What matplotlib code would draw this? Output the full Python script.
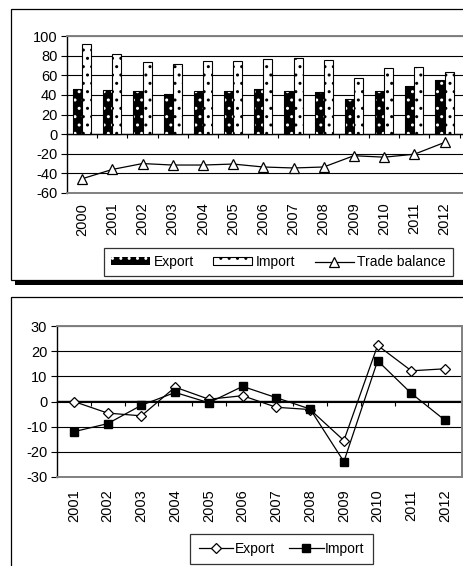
import matplotlib
matplotlib.use("Agg")
import matplotlib.pyplot as plt
from matplotlib.patches import Rectangle
import numpy as np

plt.rcParams['font.family'] = ['Liberation Sans', 'DejaVu Sans']
plt.rcParams['hatch.linewidth'] = 1.0
plt.rcParams['axes.unicode_minus'] = False

W, H = 463, 566

### --------- DATA --------- ###

years_top = ['2000', '2001', '2002', '2003', '2004', '2005', '2006',
             '2007', '2008', '2009', '2010', '2011', '2012']
export_top = [45.5, 45, 44, 41, 44, 44, 45.5, 44, 43, 36, 44, 49.5, 55]
import_top = [91.5, 81.5, 73, 71.5, 74.5, 74.5, 77, 78, 76, 57.5, 67, 68.5, 63.5]
balance_top = [-45.5, -36, -30, -31.5, -31.5, -30.5, -33.5, -34.5, -33.5,
               -22, -23.5, -20.5, -8.5]

years_bot = ['2001', '2002', '2003', '2004', '2005', '2006',
             '2007', '2008', '2009', '2010', '2011', '2012']
export_growth = [0, -4.6, -5.7, 5.7, 0.9, 2.3, -2.3, -3.2, -15.5, 22.3, 12.2, 13]
import_growth = [-12, -8.8, -1.5, 3.6, -0.5, 6, 1.5, -3, -23.9, 16.2, 3.2, -7.5]

top_yticks = [-60, -40, -20, 0, 20, 40, 60, 80, 100]
bot_yticks = [-30, -20, -10, 0, 10, 20, 30]


def px_rect(left, top, right, bottom):
    return [left / W, 1 - bottom / H, (right - left) / W, (bottom - top) / H]


def style_axes(ax, ymin, ymax, yticks, n_ticks, xright):
    ax.set_ylim(ymin, ymax)
    ax.set_yticks(yticks)
    ax.set_xlim(-0.5, xright)
    ax.set_axisbelow(True)
    ax.yaxis.grid(True, color='black', lw=0.8)
    for s in ['top', 'bottom', 'right']:
        ax.spines[s].set_color('#808080')
        ax.spines[s].set_linewidth(1.4)
    ax.spines['left'].set_color('black')
    ax.spines['left'].set_linewidth(1.0)
    ax.tick_params(axis='y', direction='out', length=4, width=0.8,
                   pad=3, labelsize=10.5)
    ax.tick_params(axis='x', length=0, pad=7, labelsize=10.5)
    # category axis at y = 0 with tick marks between categories
    zero = (0 - ymin) / (ymax - ymin)
    sec = ax.secondary_xaxis(zero)
    for s in ['top', 'bottom']:
        sec.spines[s].set_color('black')
        sec.spines[s].set_linewidth(1.0)
    sec.set_xticks(np.arange(0.5, n_ticks, 1.0))
    sec.xaxis.set_ticks_position('bottom')
    sec.tick_params(axis='x', direction='out', length=3, width=0.8,
                    labelbottom=False, labeltop=False)


fig = plt.figure(figsize=(W / 100, H / 100), dpi=100)

# chart frames (behind the axes)
fig.add_artist(Rectangle((15 / W, 1 - 285 / H), 470 / W, 4 / H,
                         transform=fig.transFigure, facecolor='black',
                         edgecolor='none', zorder=-2))
fig.add_artist(Rectangle((11 / W, 1 - 280 / H), 470 / W, 271 / H,
                         transform=fig.transFigure, facecolor='white',
                         edgecolor='black', lw=0.9, zorder=-1))
fig.add_artist(Rectangle((11 / W, 1 - 580 / H), 470 / W, 283 / H,
                         transform=fig.transFigure, facecolor='white',
                         edgecolor='black', lw=0.9, zorder=-1))

### --------- TOP CHART --------- ###

ax1 = fig.add_axes(px_rect(67, 36, 475, 193))
ax1.patch.set_alpha(0)
x1 = np.arange(len(years_top))
bw = 0.3
b_exp = ax1.bar(x1 - bw / 2, export_top, bw, facecolor='black',
                edgecolor='white', hatch='..', lw=0, label='Export', zorder=2)
ax1.bar(x1 - bw / 2, export_top, bw, fill=False, edgecolor='black',
        lw=0.8, zorder=2)
b_imp = ax1.bar(x1 + bw / 2, import_top, bw, facecolor='white',
                edgecolor='black', hatch='..', lw=0.8, label='Import', zorder=2)
l_bal, = ax1.plot(x1, balance_top, color='black', lw=0.9, marker='^',
                  ms=7, mfc='white', mec='black', mew=0.9,
                  label='Trade balance', zorder=3)
style_axes(ax1, -60, 100, top_yticks, len(years_top),
           -0.5 + (475 - 67) / 30.2)
ax1.set_xticks(x1)
ax1.set_xticklabels(years_top, rotation=90)

leg1 = fig.legend(handles=[b_exp, b_imp, l_bal], loc='center',
                  bbox_to_anchor=(278.5 / W, 1 - 262 / H), ncol=3,
                  fontsize=10, frameon=True, fancybox=False,
                  handlelength=2.8, handleheight=0.5, handletextpad=0.25,
                  columnspacing=1.4, borderpad=0.5)
leg1.get_frame().set_edgecolor('black')
leg1.get_frame().set_linewidth(0.9)

### --------- BOTTOM CHART --------- ###

ax2 = fig.add_axes(px_rect(57, 326, 462, 477))
ax2.patch.set_alpha(0)
x2 = np.arange(len(years_bot))
l_exp, = ax2.plot(x2, export_growth, color='black', lw=0.9, marker='D',
                  ms=5, mfc='white', mec='black', mew=0.9, label='Export',
                  zorder=3)
l_imp, = ax2.plot(x2, import_growth, color='black', lw=0.9, marker='s',
                  ms=6, mfc='black', mec='black', label='Import', zorder=3)
style_axes(ax2, -30, 30, bot_yticks, len(years_bot), len(years_bot) - 0.5)
ax2.set_xticks(x2)
ax2.set_xticklabels(years_bot, rotation=90)
ax2.tick_params(axis='x', pad=9)

leg2 = fig.legend(handles=[l_exp, l_imp], loc='center',
                  bbox_to_anchor=(281.5 / W, 1 - 549 / H), ncol=2,
                  fontsize=10, frameon=True, fancybox=False,
                  handlelength=2.5, handletextpad=0.1,
                  columnspacing=1.0, borderpad=0.6)
leg2.get_frame().set_edgecolor('black')
leg2.get_frame().set_linewidth(0.9)

fig.savefig('out.png', dpi=100)
